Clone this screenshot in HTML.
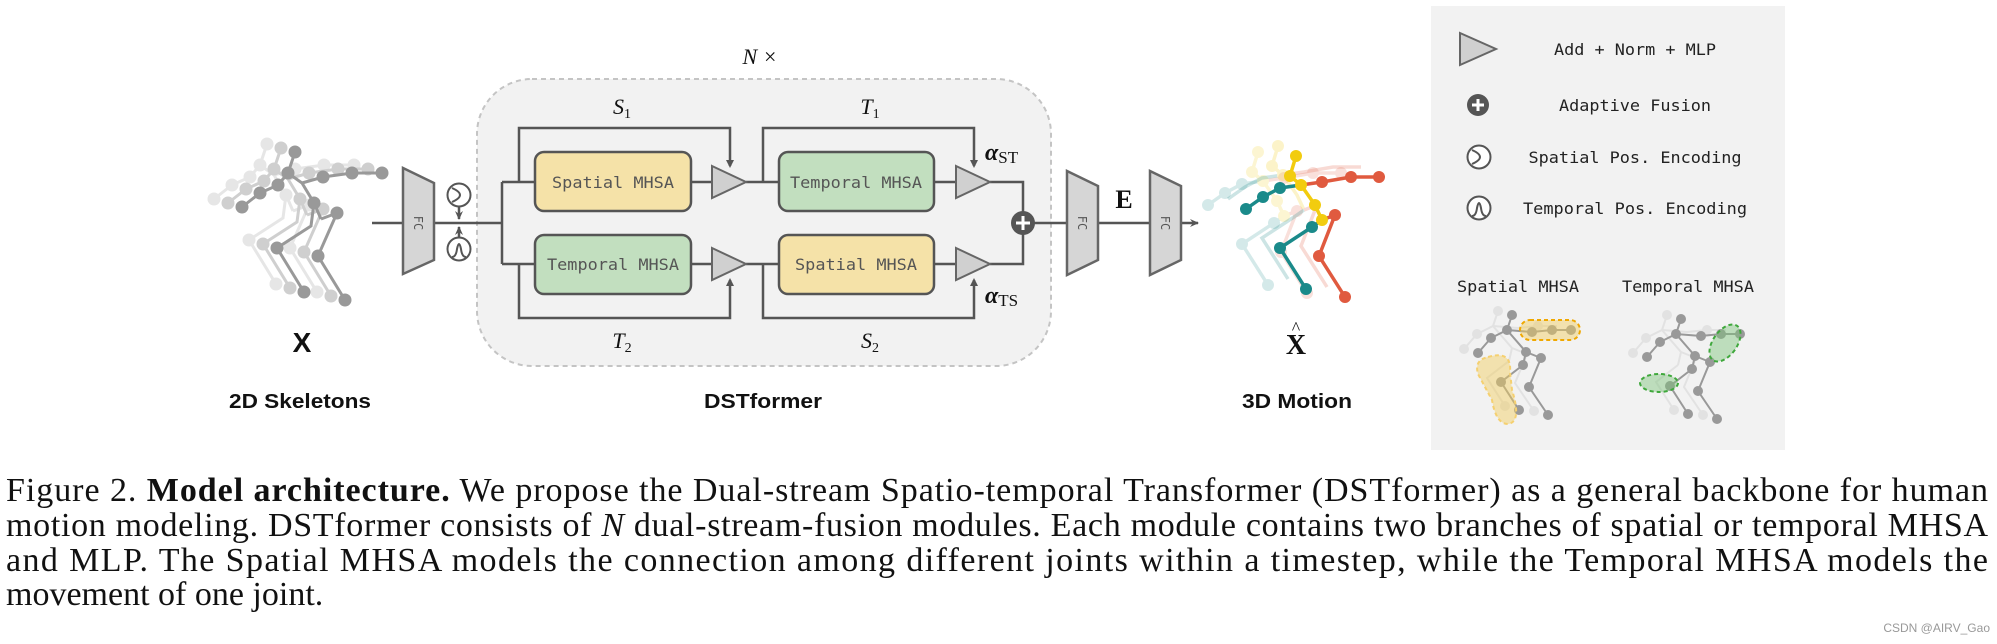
<!DOCTYPE html>
<html><head><meta charset="utf-8"><style>
html,body{margin:0;padding:0;background:#fff;}
svg{display:block;}
.mono{font-family:"DejaVu Sans Mono","Liberation Mono",monospace;fill:#555;}
.lg{font-family:"DejaVu Sans Mono","Liberation Mono",monospace;fill:#222;}
.math{font-family:"Liberation Serif",serif;font-style:italic;fill:#111;}
.bold{font-family:"Liberation Sans",sans-serif;font-weight:bold;fill:#111;}
.cap{font-family:"Liberation Serif",serif;fill:#111;font-size:34px;}
</style></head><body>
<svg width="1997" height="644" viewBox="0 0 1997 644" xmlns="http://www.w3.org/2000/svg">
<defs>
<marker id="ar" markerWidth="10" markerHeight="10" refX="8" refY="5" orient="auto" markerUnits="userSpaceOnUse"><path d="M0,1 L9,5 L0,9 L3,5 Z" fill="#555"/></marker>
<g id="skel2d">
<g stroke-width="3" fill="none">
<polyline points="295,152 288,173 302,183 314,203 321,219"/>
<polyline points="302,183 323,177 352,173 382,173"/>
<polyline points="288,173 278,185 260,193 242,207"/>
<polyline points="314,203 311,226 277,248 304,292"/>
<polyline points="321,219 337,213 318,256 345,300"/>
</g>
</g>
</defs>

<g stroke="#e6e6e6" fill="#e6e6e6" transform="translate(-28,-8)">
<use href="#skel2d"/>
<g><circle cx="295" cy="152" r="6"/><circle cx="288" cy="173" r="6"/><circle cx="323" cy="177" r="6"/><circle cx="352" cy="173" r="6"/><circle cx="382" cy="173" r="6"/><circle cx="278" cy="185" r="6"/><circle cx="260" cy="193" r="6"/><circle cx="242" cy="207" r="6"/><circle cx="314" cy="203" r="6"/><circle cx="337" cy="213" r="6"/><circle cx="277" cy="248" r="6"/><circle cx="304" cy="292" r="6"/><circle cx="318" cy="256" r="6"/><circle cx="345" cy="300" r="6"/></g>
</g>
<g stroke="#cfcfcf" fill="#cfcfcf" transform="translate(-14,-4)">
<use href="#skel2d"/>
<g><circle cx="295" cy="152" r="6"/><circle cx="288" cy="173" r="6"/><circle cx="323" cy="177" r="6"/><circle cx="352" cy="173" r="6"/><circle cx="382" cy="173" r="6"/><circle cx="278" cy="185" r="6"/><circle cx="260" cy="193" r="6"/><circle cx="242" cy="207" r="6"/><circle cx="314" cy="203" r="6"/><circle cx="337" cy="213" r="6"/><circle cx="277" cy="248" r="6"/><circle cx="304" cy="292" r="6"/><circle cx="318" cy="256" r="6"/><circle cx="345" cy="300" r="6"/></g>
</g>
<g stroke="#999" fill="#999">
<use href="#skel2d"/>
<g><circle cx="295" cy="152" r="6"/><circle cx="288" cy="173" r="6"/><circle cx="323" cy="177" r="6"/><circle cx="352" cy="173" r="6"/><circle cx="382" cy="173" r="6"/><circle cx="278" cy="185" r="6"/><circle cx="260" cy="193" r="6"/><circle cx="242" cy="207" r="6"/><circle cx="314" cy="203" r="6"/><circle cx="337" cy="213" r="6"/><circle cx="277" cy="248" r="6"/><circle cx="304" cy="292" r="6"/><circle cx="318" cy="256" r="6"/><circle cx="345" cy="300" r="6"/></g>
</g>
<text x="302" y="352" class="bold" font-size="28" text-anchor="middle" font-family="Liberation Serif">X</text>
<text x="300" y="408" class="bold" font-size="20" text-anchor="middle" textLength="142" lengthAdjust="spacingAndGlyphs">2D Skeletons</text>

<rect x="477" y="79" width="574" height="287" rx="55" fill="#f2f2f2" stroke="#c4c4c4" stroke-width="2" stroke-dasharray="5,4"/>
<text x="760" y="64" class="math" font-size="22" text-anchor="middle">N ×</text>

<g stroke="#555" stroke-width="2.5" fill="none">
<line x1="372" y1="223" x2="403" y2="223"/>
<line x1="434" y1="223" x2="502" y2="223"/>
<line x1="502" y1="182" x2="502" y2="264"/>
<line x1="502" y1="182" x2="535" y2="182"/>
<line x1="502" y1="264" x2="535" y2="264"/>
<polyline points="519,182 519,128 730,128 730,166"/>
<polyline points="519,264 519,318 730,318 730,280"/>
<line x1="691" y1="182" x2="712" y2="182"/>
<line x1="746" y1="182" x2="779" y2="182"/>
<line x1="691" y1="264" x2="712" y2="264"/>
<line x1="746" y1="264" x2="779" y2="264"/>
<polyline points="763,182 763,128 974,128 974,166"/>
<polyline points="763,264 763,318 974,318 974,280"/>
<line x1="934" y1="182" x2="956" y2="182"/>
<line x1="934" y1="264" x2="956" y2="264"/>
<polyline points="990,182 1023,182 1023,264 990,264"/>
<line x1="1023" y1="223" x2="1067" y2="223"/>
<line x1="1098" y1="223" x2="1150" y2="223"/>
<line x1="1181" y1="223" x2="1198" y2="223" marker-end="url(#ar)"/>
<line x1="459" y1="207" x2="459" y2="219" marker-end="url(#ar)"/>
<line x1="459" y1="237" x2="459" y2="227" marker-end="url(#ar)"/>
</g>
<g fill="#555"><path d="M726,160 L734,160 L730,168Z"/><path d="M970,160 L978,160 L974,168Z"/><path d="M726,286 L734,286 L730,278Z"/><path d="M970,286 L978,286 L974,278Z"/></g>

<g stroke="#555" stroke-width="2" fill="#fff">
<circle cx="459" cy="195" r="11.5"/><circle cx="459" cy="249" r="11.5"/>
</g>
<path d="M452,188 Q468,195 452,202" stroke="#555" stroke-width="2" fill="none"/>
<path d="M452,257 Q456,257 457,249 Q459,239 461,249 Q462,257 466,257" stroke="#555" stroke-width="2" fill="none"/>

<g fill="#d6d6d6" stroke="#666" stroke-width="2.5">
<polygon points="403,168 434,183 434,260 403,274"/>
<polygon points="1067,171 1098,186 1098,260 1067,275"/>
<polygon points="1150,171 1181,186 1181,260 1150,275"/>
</g>
<g class="mono" font-size="12" fill="#666">
<text transform="translate(414,223) rotate(90)" text-anchor="middle">FC</text>
<text transform="translate(1078,223) rotate(90)" text-anchor="middle">FC</text>
<text transform="translate(1161,223) rotate(90)" text-anchor="middle">FC</text>
</g>
<text x="1124" y="208" font-family="Liberation Serif" font-weight="bold" font-size="26" text-anchor="middle" fill="#111">E</text>

<g stroke="#555" stroke-width="2.5">
<rect x="535" y="152" width="156" height="59" rx="9" fill="#f5e2a8"/>
<rect x="779" y="152" width="155" height="59" rx="9" fill="#c2dfbf"/>
<rect x="535" y="235" width="156" height="59" rx="9" fill="#c2dfbf"/>
<rect x="779" y="235" width="155" height="59" rx="9" fill="#f5e2a8"/>
</g>
<g class="mono" font-size="16" text-anchor="middle">
<text x="613" y="188" textLength="122" lengthAdjust="spacingAndGlyphs">Spatial MHSA</text>
<text x="856" y="188" textLength="132" lengthAdjust="spacingAndGlyphs">Temporal MHSA</text>
<text x="613" y="270" textLength="132" lengthAdjust="spacingAndGlyphs">Temporal MHSA</text>
<text x="856" y="270" textLength="122" lengthAdjust="spacingAndGlyphs">Spatial MHSA</text>
</g>
<g fill="#d0d0d0" stroke="#666" stroke-width="2">
<polygon points="712,166 746,182 712,198"/>
<polygon points="956,166 990,182 956,198"/>
<polygon points="712,248 746,264 712,280"/>
<polygon points="956,248 990,264 956,280"/>
</g>
<circle cx="1023" cy="223" r="12" fill="#555"/>
<path d="M1016,223 H1030 M1023,216 V230" stroke="#fff" stroke-width="3"/>

<g class="math" font-size="22" text-anchor="middle">
<text x="622" y="114">S<tspan font-size="14" font-style="normal" dy="4">1</tspan></text>
<text x="870" y="114">T<tspan font-size="14" font-style="normal" dy="4">1</tspan></text>
<text x="622" y="348">T<tspan font-size="14" font-style="normal" dy="4">2</tspan></text>
<text x="870" y="348">S<tspan font-size="14" font-style="normal" dy="4">2</tspan></text>
</g>
<text x="985" y="160" class="math" font-size="24" font-weight="bold">α<tspan font-size="17" font-style="normal" font-weight="normal" dy="3">ST</tspan></text>
<text x="985" y="303" class="math" font-size="24" font-weight="bold">α<tspan font-size="17" font-style="normal" font-weight="normal" dy="3">TS</tspan></text>
<text x="763" y="408" class="bold" font-size="20" text-anchor="middle" textLength="118" lengthAdjust="spacingAndGlyphs">DSTformer</text>

<g stroke-width="3.5">
<g opacity="0.18" transform="translate(-38,-4)">
<polyline points="1296,156 1290,176 1301,185 1315,205 1322,220" stroke="#f2cc0f" fill="none"/>
<polyline points="1301,185 1322,182 1351,177 1379,177" stroke="#e05a3f" fill="none"/>
<polyline points="1301,185 1280,188 1263,197 1246,209" stroke="#1a8a8a" fill="none"/>
<polyline points="1322,220 1312,227 1280,248 1306,289" stroke="#1a8a8a" fill="none"/>
<polyline points="1322,220 1335,215 1319,256 1345,297" stroke="#e05a3f" fill="none"/>
<g fill="#1a8a8a" stroke="none"><circle cx="1280" cy="188" r="6"/><circle cx="1263" cy="197" r="6"/><circle cx="1246" cy="209" r="6"/><circle cx="1312" cy="227" r="6"/><circle cx="1280" cy="248" r="6"/><circle cx="1306" cy="289" r="6"/></g>
<g fill="#e05a3f" stroke="none"><circle cx="1322" cy="182" r="6"/><circle cx="1351" cy="177" r="6"/><circle cx="1379" cy="177" r="6"/><circle cx="1335" cy="215" r="6"/><circle cx="1319" cy="256" r="6"/><circle cx="1345" cy="297" r="6"/></g>
<g fill="#f2cc0f" stroke="none"><circle cx="1296" cy="156" r="6"/><circle cx="1290" cy="176" r="6"/><circle cx="1301" cy="185" r="6"/><circle cx="1315" cy="205" r="6"/><circle cx="1322" cy="220" r="6"/></g>
</g>
<g opacity="0.22" transform="translate(-18,-10)">
<polyline points="1296,156 1290,176 1301,185 1315,205 1322,220" stroke="#f2cc0f" fill="none"/>
<polyline points="1301,185 1322,182 1351,177 1379,177" stroke="#e05a3f" fill="none"/>
<polyline points="1301,185 1280,188 1263,197 1246,209" stroke="#1a8a8a" fill="none"/>
<polyline points="1322,220 1312,227 1280,248 1306,289" stroke="#1a8a8a" fill="none"/>
<polyline points="1322,220 1335,215 1319,256 1345,297" stroke="#e05a3f" fill="none"/>
<g fill="#f2cc0f" stroke="none"><circle cx="1296" cy="156" r="6"/><circle cx="1290" cy="176" r="6"/><circle cx="1301" cy="185" r="6"/></g>
</g>
<polyline points="1296,156 1290,176 1301,185 1315,205 1322,220" stroke="#f2cc0f" fill="none"/>
<polyline points="1301,185 1322,182 1351,177 1379,177" stroke="#e05a3f" fill="none"/>
<polyline points="1301,185 1280,188 1263,197 1246,209" stroke="#1a8a8a" fill="none"/>
<polyline points="1322,220 1312,227 1280,248 1306,289" stroke="#1a8a8a" fill="none"/>
<polyline points="1322,220 1335,215 1319,256 1345,297" stroke="#e05a3f" fill="none"/>
<g fill="#1a8a8a" stroke="none"><circle cx="1280" cy="188" r="6"/><circle cx="1263" cy="197" r="6"/><circle cx="1246" cy="209" r="6"/><circle cx="1312" cy="227" r="6"/><circle cx="1280" cy="248" r="6"/><circle cx="1306" cy="289" r="6"/></g>
<g fill="#e05a3f" stroke="none"><circle cx="1322" cy="182" r="6"/><circle cx="1351" cy="177" r="6"/><circle cx="1379" cy="177" r="6"/><circle cx="1335" cy="215" r="6"/><circle cx="1319" cy="256" r="6"/><circle cx="1345" cy="297" r="6"/></g>
<g fill="#f2cc0f" stroke="none"><circle cx="1296" cy="156" r="6"/><circle cx="1290" cy="176" r="6"/><circle cx="1301" cy="185" r="6"/><circle cx="1315" cy="205" r="6"/><circle cx="1322" cy="220" r="6"/></g>
</g>
<text x="1296" y="354" font-family="Liberation Serif" font-weight="bold" font-size="28" text-anchor="middle" fill="#111">X</text>
<text x="1296" y="334" font-family="Liberation Serif" font-size="18" text-anchor="middle" fill="#111">^</text>
<text x="1297" y="408" class="bold" font-size="20" text-anchor="middle" textLength="110" lengthAdjust="spacingAndGlyphs">3D Motion</text>

<rect x="1431" y="6" width="354" height="444" fill="#f2f2f2"/>
<polygon points="1460,33 1496,49 1460,65" fill="#d0d0d0" stroke="#666" stroke-width="2"/>
<circle cx="1478" cy="105" r="11" fill="#555"/>
<path d="M1472,105 H1484 M1478,99 V111" stroke="#fff" stroke-width="3"/>
<circle cx="1479" cy="157" r="11.5" fill="#fff" stroke="#555" stroke-width="2"/>
<path d="M1472,150 Q1488,157 1472,164" stroke="#555" stroke-width="2" fill="none"/>
<circle cx="1479" cy="208" r="11.5" fill="#fff" stroke="#555" stroke-width="2"/>
<path d="M1472,216 Q1476,216 1477,208 Q1479,198 1481,208 Q1482,216 1486,216" stroke="#555" stroke-width="2" fill="none"/>
<g class="lg" font-size="16" text-anchor="middle">
<text x="1635" y="55" textLength="162" lengthAdjust="spacingAndGlyphs">Add + Norm + MLP</text>
<text x="1635" y="111" textLength="152" lengthAdjust="spacingAndGlyphs">Adaptive Fusion</text>
<text x="1635" y="163" textLength="213" lengthAdjust="spacingAndGlyphs">Spatial Pos. Encoding</text>
<text x="1635" y="214" textLength="224" lengthAdjust="spacingAndGlyphs">Temporal Pos. Encoding</text>
<text x="1518" y="292" textLength="122" lengthAdjust="spacingAndGlyphs">Spatial MHSA</text>
<text x="1688" y="292" textLength="132" lengthAdjust="spacingAndGlyphs">Temporal MHSA</text>
</g>
<g id="ls">
<g stroke="#e2e2e2" fill="#e2e2e2" stroke-width="2" transform="translate(-14,-4)">
<polyline fill="none" points="1512,315 1507,330 1526,352 1523,365"/>
<polyline fill="none" points="1507,330 1532,332 1552,330 1571,330"/>
<polyline fill="none" points="1507,330 1491,338 1478,353"/>
<polyline fill="none" points="1523,365 1501,382 1519,410"/>
<polyline fill="none" points="1526,352 1541,358 1529,387 1548,415"/>
<circle cx="1512" cy="315" r="4"/><circle cx="1552" cy="330" r="4"/><circle cx="1478" cy="353" r="4"/><circle cx="1519" cy="410" r="4"/><circle cx="1548" cy="415" r="4"/><circle cx="1491" cy="338" r="4"/>
</g>
<g stroke="#999" fill="#999" stroke-width="2">
<polyline fill="none" points="1512,315 1507,330 1526,352 1523,365"/>
<polyline fill="none" points="1507,330 1532,332 1552,330 1571,330"/>
<polyline fill="none" points="1507,330 1491,338 1478,353"/>
<polyline fill="none" points="1523,365 1501,382 1519,410"/>
<polyline fill="none" points="1526,352 1541,358 1529,387 1548,415"/>
<circle cx="1512" cy="315" r="4"/><circle cx="1507" cy="330" r="4"/><circle cx="1532" cy="332" r="4"/><circle cx="1552" cy="330" r="4"/><circle cx="1571" cy="330" r="4"/><circle cx="1491" cy="338" r="4"/><circle cx="1478" cy="353" r="4"/><circle cx="1526" cy="352" r="4"/><circle cx="1523" cy="365" r="4"/><circle cx="1501" cy="382" r="4"/><circle cx="1519" cy="410" r="4"/><circle cx="1541" cy="358" r="4"/><circle cx="1529" cy="387" r="4"/><circle cx="1548" cy="415" r="4"/>
</g>
</g>
<use href="#ls" transform="translate(169,4)"/>
<g fill="#f2cc5a" fill-opacity="0.45" stroke="#f0a800" stroke-width="2" stroke-dasharray="4,3">
<rect x="1520" y="320" width="60" height="20" rx="10"/>
<path d="M1488,357 Q1512,350 1510,372 L1512,390 Q1522,422 1508,424 Q1496,424 1492,400 L1478,374 Q1474,360 1488,357Z" stroke="#f5d070"/>
</g>
<g fill="#7cc47a" fill-opacity="0.45" stroke="#3fa83c" stroke-width="2" stroke-dasharray="4,3">
<ellipse cx="1725" cy="343" rx="12" ry="21" transform="rotate(35 1725 343)"/>
<ellipse cx="1659" cy="383" rx="19" ry="9"/>
</g>

<g class="cap">
<text x="6" y="501" textLength="1982" lengthAdjust="spacing">Figure 2. <tspan font-weight="bold">Model architecture.</tspan> We propose the Dual-stream Spatio-temporal Transformer (DSTformer) as a general backbone for human</text>
<text x="6" y="536" textLength="1982" lengthAdjust="spacing">motion modeling. DSTformer consists of <tspan font-style="italic">N</tspan> dual-stream-fusion modules. Each module contains two branches of spatial or temporal MHSA</text>
<text x="6" y="571" textLength="1982" lengthAdjust="spacing">and MLP. The Spatial MHSA models the connection among different joints within a timestep, while the Temporal MHSA models the</text>
<text x="6" y="605">movement of one joint.</text>
</g>
<text x="1990" y="632" font-family="Liberation Sans,sans-serif" font-size="12" fill="#999" text-anchor="end">CSDN @AIRV_Gao</text>
</svg>
</body></html>
